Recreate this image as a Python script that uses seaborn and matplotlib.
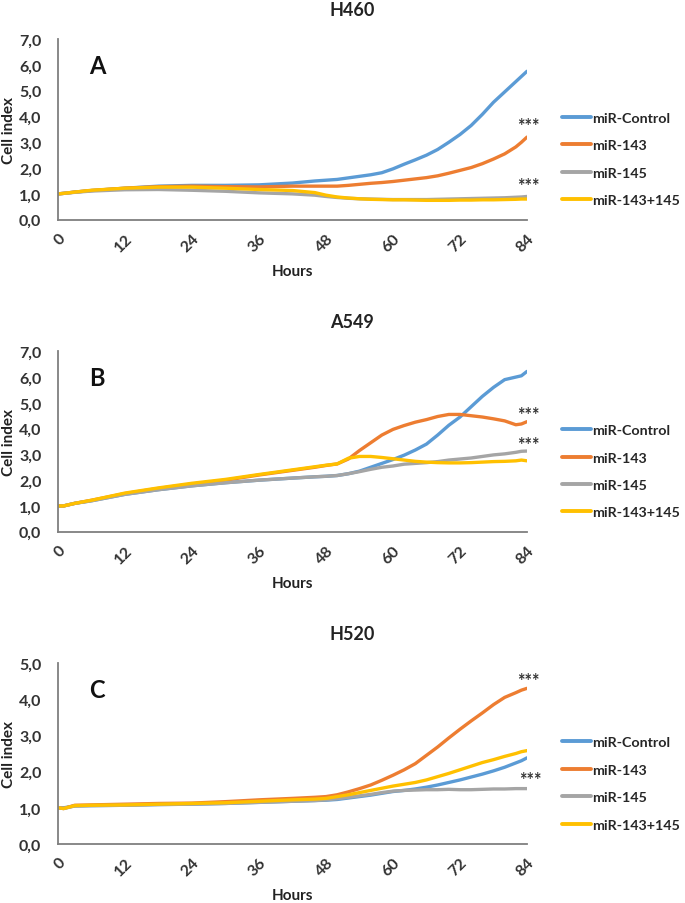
import numpy as np
import pandas as pd
import matplotlib
matplotlib.use("Agg")
import matplotlib.pyplot as plt
import seaborn as sns

sns.set_style("white")
plt.rcParams["font.family"] = ["Lato", "DejaVu Sans"]
plt.rcParams["font.weight"] = "bold"

# time grid (hours) shared by all curves
hours = [0, 1, 3, 6, 12, 18, 24, 30, 36, 42, 46, 48, 50, 52, 54, 56, 58, 60,
         62, 64, 66, 68, 70, 72, 74, 76, 78, 80, 82, 83, 84]

series_names = ["miR-Control", "miR-143", "miR-145", "miR-143+145"]
colors = ["#5B9BD5", "#ED7D31", "#A5A5A5", "#FFC000"]

# H460
h460_control = [1.0, 1.02, 1.07, 1.13, 1.22, 1.3, 1.33, 1.33, 1.35, 1.42, 1.5, 1.53, 1.56, 1.62, 1.68, 1.74,
                1.82, 1.97, 2.15, 2.32, 2.5, 2.72, 3.0, 3.3, 3.65, 4.08, 4.55, 4.95, 5.35, 5.55, 5.75]
h460_143 = [1.0, 1.02, 1.07, 1.13, 1.22, 1.28, 1.3, 1.28, 1.27, 1.3, 1.3, 1.3, 1.3, 1.33, 1.37, 1.41,
            1.44, 1.48, 1.53, 1.58, 1.63, 1.7, 1.8, 1.91, 2.02, 2.17, 2.35, 2.55, 2.82, 3.0, 3.2]
h460_145 = [1.0, 1.02, 1.06, 1.11, 1.16, 1.17, 1.14, 1.1, 1.04, 1.0, 0.95, 0.9, 0.86, 0.83, 0.81, 0.8,
            0.79, 0.78, 0.78, 0.78, 0.78, 0.79, 0.8, 0.81, 0.82, 0.83, 0.84, 0.85, 0.87, 0.88, 0.9]
h460_combo = [1.0, 1.02, 1.07, 1.14, 1.22, 1.26, 1.26, 1.22, 1.17, 1.13, 1.05, 0.95, 0.88, 0.84, 0.81, 0.79,
              0.78, 0.77, 0.77, 0.76, 0.75, 0.75, 0.75, 0.76, 0.76, 0.77, 0.77, 0.78, 0.79, 0.8, 0.8]

# A549
a549_control = [1.0, 1.0, 1.1, 1.2, 1.45, 1.63, 1.78, 1.9, 2.0, 2.08, 2.13, 2.15, 2.18, 2.25, 2.35, 2.5,
                2.65, 2.8, 2.97, 3.17, 3.4, 3.75, 4.13, 4.45, 4.85, 5.25, 5.6, 5.9, 6.0, 6.05, 6.22]
a549_143 = [1.0, 1.0, 1.1, 1.22, 1.48, 1.68, 1.85, 2.0, 2.2, 2.38, 2.5, 2.57, 2.63, 2.82, 3.15, 3.45,
            3.75, 3.97, 4.12, 4.25, 4.35, 4.47, 4.55, 4.55, 4.5, 4.45, 4.38, 4.3, 4.15, 4.18, 4.27]
a549_145 = [1.0, 1.0, 1.1, 1.2, 1.45, 1.63, 1.78, 1.9, 2.0, 2.08, 2.13, 2.15, 2.18, 2.25, 2.33, 2.42,
            2.5, 2.55, 2.62, 2.65, 2.68, 2.72, 2.78, 2.82, 2.86, 2.92, 2.98, 3.02, 3.08, 3.12, 3.13]
a549_combo = [1.0, 1.0, 1.1, 1.22, 1.5, 1.7, 1.88, 2.03, 2.22, 2.4, 2.52, 2.58, 2.63, 2.85, 2.92, 2.92,
              2.88, 2.83, 2.78, 2.73, 2.7, 2.68, 2.67, 2.67, 2.68, 2.7, 2.72, 2.73, 2.75, 2.78, 2.75]

# H520
h520_control = [1.0, 1.0, 1.05, 1.06, 1.07, 1.09, 1.1, 1.12, 1.15, 1.18, 1.2, 1.21, 1.23, 1.27, 1.31, 1.35,
                1.4, 1.45, 1.48, 1.52, 1.57, 1.63, 1.7, 1.77, 1.85, 1.93, 2.02, 2.12, 2.24, 2.3, 2.38]
h520_143 = [1.0, 0.98, 1.07, 1.08, 1.1, 1.12, 1.13, 1.17, 1.22, 1.26, 1.29, 1.31, 1.36, 1.44, 1.53, 1.63,
            1.76, 1.9, 2.05, 2.22, 2.45, 2.68, 2.93, 3.17, 3.4, 3.62, 3.85, 4.05, 4.18, 4.25, 4.3]
h520_145 = [1.0, 0.98, 1.05, 1.06, 1.07, 1.09, 1.1, 1.12, 1.15, 1.18, 1.2, 1.22, 1.25, 1.29, 1.33, 1.37,
            1.42, 1.46, 1.48, 1.49, 1.5, 1.5, 1.51, 1.5, 1.5, 1.51, 1.52, 1.52, 1.53, 1.53, 1.53]
h520_combo = [1.0, 0.98, 1.06, 1.07, 1.08, 1.1, 1.12, 1.14, 1.18, 1.22, 1.24, 1.26, 1.31, 1.36, 1.42, 1.48,
              1.54, 1.6, 1.65, 1.7, 1.77, 1.86, 1.95, 2.05, 2.15, 2.25, 2.33, 2.42, 2.5, 2.55, 2.58]

panels = [
    ("H460", "A", 7, [h460_control, h460_143, h460_145, h460_combo], [(84.3, 3.63), (84.3, 1.34)]),
    ("A549", "B", 7, [a549_control, a549_143, a549_145, a549_combo], [(84.3, 4.53), (84.3, 3.4)]),
    ("H520", "C", 5, [h520_control, h520_143, h520_145, h520_combo], [(84.3, 4.51), (84.6, 1.77)]),
]

x_ticks = [0, 12, 24, 36, 48, 60, 72, 84]

W, H = 685, 904
fig = plt.figure(figsize=(W / 100, H / 100), dpi=100)

# axes boxes in pixels: (top, bottom)
boxes = [(40, 220.7), (352.3, 532.7), (664, 845)]
left_px, right_px = 58, 527

for (title, letter, ymax, vals, stars), (top, bot) in zip(panels, boxes):
    ax = fig.add_axes([left_px / W, 1 - bot / H, (right_px - left_px) / W, (bot - top) / H])
    df = pd.DataFrame({
        "Hours": np.tile(hours, 4),
        "value": np.concatenate(vals),
        "series": np.repeat(series_names, len(hours)),
    })
    sns.lineplot(data=df, x="Hours", y="value", hue="series", hue_order=series_names,
                 palette=colors, linewidth=2.4, sort=False, ax=ax, legend=False)

    ax.set_xlim(0, 84)
    ax.set_ylim(0, ymax)
    ax.set_xticks(x_ticks)
    ax.set_xticklabels([str(t) for t in x_ticks], rotation=45, ha="right",
                       rotation_mode="anchor", fontsize=11.5, fontweight="bold", color="#333333")
    ax.set_yticks(range(0, ymax + 1))
    ax.set_yticklabels([f"{v},0" for v in range(0, ymax + 1)], fontsize=11.5,
                       fontweight="bold", color="#333333")
    ax.tick_params(axis="both", length=0)
    ax.tick_params(axis="x", pad=8)
    ax.tick_params(axis="y", pad=12)
    for s in ["top", "right"]:
        ax.spines[s].set_visible(False)
    for s in ["left", "bottom"]:
        ax.spines[s].set_color("#7f7f7f")
        ax.spines[s].set_linewidth(1.3)

    ax.set_xlabel("Hours", fontsize=11, fontweight="bold", color="#222222")
    ax.xaxis.set_label_coords(0.5, -0.245)
    ax.set_ylabel("Cell index", fontsize=11, fontweight="bold", color="#222222")
    ax.yaxis.set_label_coords(-0.09, 0.5)

    fig.text(352 / W, 1 - (top - 30) / H, title, ha="center", va="center",
             fontsize=13, fontweight="bold", color="#222222")
    ax.text(0.083, 0.855, letter, transform=ax.transAxes, ha="center", va="center",
            fontsize=17, fontweight="bold", color="#111111")
    for sx, sy in stars:
        ax.text(sx, sy, "***", ha="center", va="center", fontsize=13, color="#333333")

    handles = [plt.Line2D([], [], color=c, linewidth=2.8) for c in colors]
    ax.legend(handles, series_names, loc="center left", bbox_to_anchor=(1.075, 0.335),
              frameon=False, handlelength=2.0, handletextpad=0.1,
              labelspacing=1.08, borderaxespad=0, borderpad=0,
              prop={"weight": "bold", "size": 10.3})

fig.savefig("out.png", dpi=100)
